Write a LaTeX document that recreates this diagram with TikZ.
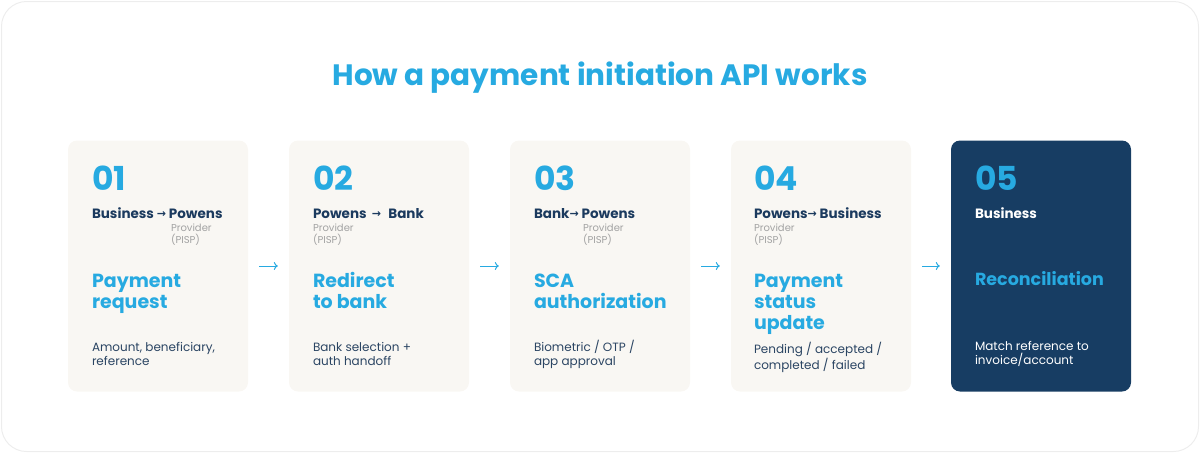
\documentclass[tikz,border=0pt]{standalone}
\usepackage{fontspec}
\usetikzlibrary{arrows.meta}
\setmainfont{Poppins}
\newfontfamily\arrowfont{DejaVu Sans}
\definecolor{pblue}{HTML}{27AAE1}
\definecolor{pnavy}{HTML}{1B3A5E}
\definecolor{pdark}{HTML}{173D63}
\definecolor{pcard}{HTML}{F9F7F3}
\definecolor{pgray}{HTML}{A3A3A3}
\definecolor{pdesc}{HTML}{2B4563}
\definecolor{pframe}{HTML}{EDEDED}
\tikzset{
  card/.style={rounded corners=9pt, minimum width=180pt, minimum height=251pt, inner sep=0pt, fill=pcard},
  darkcard/.style={card, fill=pdark},
  txt/.style={anchor=base west, inner sep=0pt, outer sep=0pt},
  num/.style={txt, text=pblue, font=\fontsize{33}{33}\selectfont\bfseries},
  actor/.style={txt, text=pnavy, font=\fontsize{13.5}{13.5}\selectfont\bfseries},
  role/.style={txt, text=pgray, align=left, font=\fontsize{10}{11.5}\selectfont},
  head/.style={txt, text=pblue, align=left, font=\fontsize{19}{21}\selectfont\bfseries},
  desc/.style={txt, text=pdesc, align=left, font=\fontsize{12}{14}\selectfont},
  flow/.style={draw=pblue, line width=1pt, -{To[length=4pt,width=8pt]}},
}
\newcommand{\arr}{{\arrowfont\fontsize{11}{11}\selectfont\raisebox{0.5pt}{→}}}
\begin{document}
\begin{tikzpicture}[x=1pt,y=-1pt]
\useasboundingbox (0,0) rectangle (1200,453);
\node[draw=pframe, line width=1pt, rounded corners=25pt, minimum width=1197pt, minimum height=450pt, inner sep=0pt] (frame) at (600,226.5) {};
\node[anchor=base, inner sep=0pt, text=pblue, font=\fontsize{29.5}{29.5}\selectfont\bfseries] (title) at (600,85) {How a payment initiation API works};

% cards
\node[card] (c1) at (158,266) {};
\node[card] (c2) at (379,266) {};
\node[card] (c3) at (600,266) {};
\node[card] (c4) at (821,266) {};
\node[darkcard] (c5) at (1041,266) {};

% card 1
\node[num] (n1) at (92,190) {01};
\node[actor] (a1) at (92,218) {Business \arr{} Powens};
\node[role] (r1) at (171,243) {Provider\\(PISP)};
\node[head] (h1) at (92,308) {Payment\\request};
\node[desc] (d1) at (92,365) {Amount, beneficiary,\\reference};

% card 2
\node[num] (n2) at (313,190) {02};
\node[actor] (a2) at (313,218) {Powens \,\arr\, \,Bank};
\node[role] (r2) at (313,243) {Provider\\(PISP)};
\node[head] (h2) at (313,308) {Redirect\\to bank};
\node[desc] (d2) at (313,365) {Bank selection +\\auth handoff};

% card 3
\node[num] (n3) at (534,190) {03};
\node[actor] (a3) at (534,218) {Bank\arr{} Powens};
\node[role] (r3) at (583,243) {Provider\\(PISP)};
\node[head] (h3) at (534,308) {SCA\\authorization};
\node[desc] (d3) at (534,365) {Biometric / OTP /\\app approval};

% card 4
\node[num] (n4) at (754,190) {04};
\node[actor] (a4) at (754,218) {Powens\arr{} Business};
\node[role] (r4) at (754,243) {Provider\\(PISP)};
\node[head] (h4) at (754,329) {Payment\\status\\update};
\node[desc] (d4) at (754,369) {Pending / accepted /\\completed / failed};

% card 5
\node[num] (n5) at (975,190) {05};
\node[actor, text=white] (a5) at (975,218) {Business};
\node[head, font=\fontsize{17.5}{21}\selectfont\bfseries] (h5) at (975,285) {Reconciliation};
\node[desc, text=white] (d5) at (975,364) {Match reference to\\invoice/account};

% connectors
\draw[flow] ([xshift=11pt]c1.east) -- ([xshift=-11pt]c2.west);
\draw[flow] ([xshift=11pt]c2.east) -- ([xshift=-11pt]c3.west);
\draw[flow] ([xshift=11pt]c3.east) -- ([xshift=-11pt]c4.west);
\draw[flow] ([xshift=11pt]c4.east) -- ([xshift=-11pt]c5.west);
\end{tikzpicture}
\end{document}
